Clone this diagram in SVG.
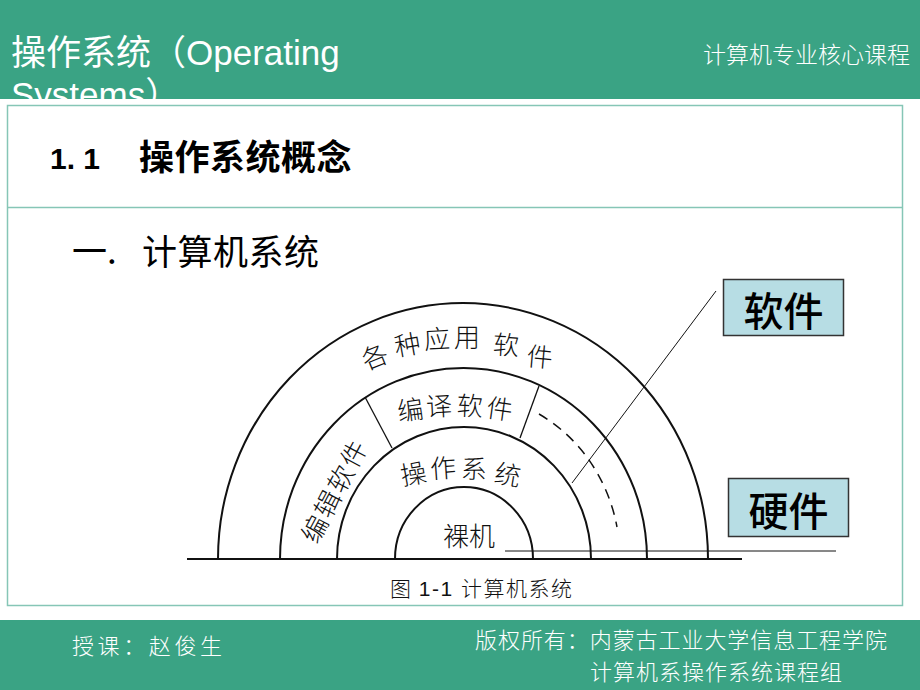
<svg xmlns="http://www.w3.org/2000/svg" width="920" height="690" viewBox="0 0 920 690">
<style>
.hdr{fill:#3aa384}
.cjk{font-family:"Noto Sans CJK SC","Liberation Sans",sans-serif}
.lbl{font-family:"Noto Sans CJK SC",sans-serif;font-size:26px;font-weight:300;fill:#111;text-anchor:middle;dominant-baseline:central}
.arc{fill:none;stroke:#111;stroke-width:2}
.thin{fill:none;stroke:#111;stroke-width:1.3}
.box{fill:#b7dde4;stroke:#333;stroke-width:1.5}
.boxt{font-family:"Noto Sans CJK SC",sans-serif;font-size:40px;font-weight:500;fill:#000;text-anchor:middle;dominant-baseline:central}
.ft{font-family:"Noto Sans CJK SC",sans-serif;font-size:22px;font-weight:300;fill:#fff}
</style>
<rect x="0" y="0" width="920" height="690" fill="#ffffff"/>
<g id="header">
<rect class="hdr" x="0" y="0" width="920" height="99"/>
<text x="11" y="65" font-family="Liberation Sans, Noto Sans CJK SC, sans-serif" font-size="35" fill="#fff">操作系统（Operating</text>
<text x="11" y="107" font-family="Liberation Sans, Noto Sans CJK SC, sans-serif" font-size="35" fill="#fff">Systems）</text>
<text x="910" y="63" text-anchor="end" class="cjk" font-size="23" font-weight="300" fill="#fff">计算机专业核心课程</text>
</g>
<rect x="0" y="99" width="920" height="521" fill="#ffffff"/>
<g id="content-frame">
<rect x="7.5" y="105.5" width="895" height="500" fill="none" stroke="#86c6b6" stroke-width="1.5"/>
<line x1="7.5" y1="207.5" x2="902.5" y2="207.5" stroke="#86c6b6" stroke-width="1.5"/>
</g>
<g id="title">
<text x="50" y="169" font-family="Liberation Sans, sans-serif" font-size="30" font-weight="bold" fill="#000">1. 1</text>
<text x="139" y="170" class="cjk" font-size="35" font-weight="bold" fill="#000" letter-spacing="0.5">操作系统概念</text>
<text x="72" y="264" class="cjk" font-size="35" fill="#000">一.</text>
<text x="142" y="265" class="cjk" font-size="35" fill="#000" letter-spacing="0.5">计算机系统</text>
</g>
<g id="connectors">
<line x1="187" y1="559" x2="742" y2="559" stroke="#111" stroke-width="2"/>
<line x1="505" y1="551" x2="836" y2="551" stroke="#111" stroke-width="1"/>
<path class="arc" d="M218,559 A245,256 0 0 1 708,559"/>
<path class="arc" d="M280,559 A183.5,191 0 0 1 647,559"/>
<path class="arc" d="M337,559 A127,132 0 0 1 591,559"/>
<path class="arc" d="M395,559 A69,72 0 0 1 533,559"/>
<line class="thin" x1="365" y1="397" x2="392" y2="448"/>
<line class="thin" x1="539" y1="386" x2="520" y2="438"/>
<path d="M539,414 A156,165 0 0 1 617,527" fill="none" stroke="#111" stroke-width="1.5" stroke-dasharray="10 7"/>
<line x1="572" y1="483" x2="716" y2="291" stroke="#111" stroke-width="1"/>
</g>
<g id="node-app">
<text class="lbl" transform="translate(374,355) rotate(-22)">各</text>
<text class="lbl" transform="translate(407,343) rotate(-10)">种</text>
<text class="lbl" transform="translate(437,337) rotate(-3)">应</text>
<text class="lbl" transform="translate(467,335)">用</text>
<text class="lbl" transform="translate(506,343) rotate(3)">软</text>
<text class="lbl" transform="translate(540,355) rotate(5)">件</text>
</g>
<g id="node-compiler">
<text class="lbl" transform="translate(410,408) rotate(-8)">编</text>
<text class="lbl" transform="translate(439,404) rotate(-3)">译</text>
<text class="lbl" transform="translate(470,404) rotate(2)">软</text>
<text class="lbl" transform="translate(500,407) rotate(8)">件</text>
</g>
<g id="node-editor">
<text class="lbl" transform="translate(313,528) rotate(-62)">编</text>
<text class="lbl" transform="translate(326,503) rotate(-62)">辑</text>
<text class="lbl" transform="translate(339,478) rotate(-62)">软</text>
<text class="lbl" transform="translate(352,453) rotate(-62)">件</text>
</g>
<g id="node-os">
<text class="lbl" transform="translate(413,472) rotate(-10)">操</text>
<text class="lbl" transform="translate(443,466) rotate(-4)">作</text>
<text class="lbl" transform="translate(474,467) rotate(3)">系</text>
<text class="lbl" transform="translate(508,473) rotate(10)">统</text>
</g>
<g id="node-bare">
<text class="lbl" x="469" y="534">裸机</text>
</g>
<g id="node-software">
<rect class="box" x="723.5" y="279.5" width="120" height="56"/>
<text class="boxt" x="783.5" y="309">软件</text>
</g>
<g id="node-hardware">
<rect class="box" x="728.5" y="478.5" width="120" height="58"/>
<text class="boxt" x="788.5" y="509">硬件</text>
</g>
<g id="caption">
<text x="390" y="596" font-family="Liberation Sans, Noto Sans CJK SC, sans-serif" font-size="21" fill="#111" textLength="182"><tspan class="cjk" font-weight="300">图 </tspan>1-1 <tspan class="cjk" font-weight="300">计算机系统</tspan></text>
</g>
<g id="footer">
<rect class="hdr" x="0" y="620" width="920" height="70"/>
<text x="72" y="654" class="ft" textLength="150">授课：赵俊生</text>
<text x="475" y="648" class="ft" textLength="412">版权所有：内蒙古工业大学信息工程学院</text>
<text x="590" y="680" class="ft" textLength="252">计算机系操作系统课程组</text>
</g>
</svg>
